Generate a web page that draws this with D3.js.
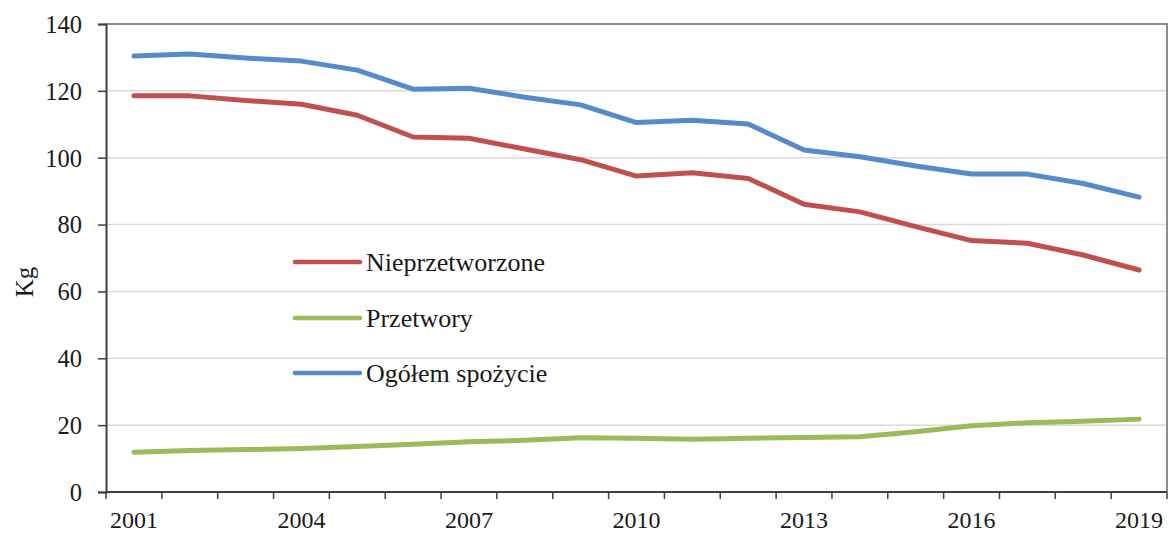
<!DOCTYPE html>
<html>
<head>
<meta charset="utf-8">
<script src="https://cdn.jsdelivr.net/npm/d3@7"></script>
<style>
  html, body { margin: 0; padding: 0; background: #fff; }
  svg { display: block; }
  text { font-family: "Liberation Serif", "Times New Roman", serif; fill: #1a1a1a; }
</style>
</head>
<body>
<svg id="chart" width="1169" height="534"></svg>
<script>
const years = [2001,2002,2003,2004,2005,2006,2007,2008,2009,2010,2011,2012,2013,2014,2015,2016,2017,2018,2019];
const tickYears = [2001,2004,2007,2010,2013,2016,2019];
const yTicks = [0,20,40,60,80,100,120,140];
const seriesNames = ["Nieprzetworzone","Przetwory","Ogółem spożycie"];
const seriesColors = ["#C0504D","#9BBB59","#558BCB"];
const nieprzetworzone = [118.5,118.5,117.1,116.0,112.7,106.2,105.8,102.6,99.4,94.5,95.5,93.8,86.1,83.8,79.4,75.2,74.4,70.9,66.4];
const przetwory = [11.9,12.4,12.7,13.0,13.6,14.3,15.0,15.5,16.2,16.1,15.8,16.1,16.3,16.5,18.0,19.8,20.7,21.2,21.8];
const ogolem = [130.4,131.0,129.8,128.9,126.2,120.5,120.8,118.1,115.8,110.5,111.2,110.1,102.3,100.3,97.5,95.1,95.1,92.3,88.2];
const seriesData = [nieprzetworzone, przetwory, ogolem];

const svg = d3.select("#chart");
const mLeft = 106, mRight = 1167, mTop = 24, mBottom = 492;

const x = d3.scaleBand().domain(years).range([mLeft, mRight]).paddingInner(0).paddingOuter(0);
const y = d3.scaleLinear().domain([0, 140]).range([mBottom, mTop]);

// gridlines
svg.append("g").selectAll("line").data(yTicks.filter(d => d > 0 && d < 140)).join("line")
  .attr("x1", mLeft).attr("x2", mRight)
  .attr("y1", d => y(d)).attr("y2", d => y(d))
  .attr("stroke", "#d9d9d9").attr("stroke-width", 1.5);

// plot border top & right
svg.append("line").attr("x1", mLeft).attr("x2", mRight + 1).attr("y1", y(140)).attr("y2", y(140))
  .attr("stroke", "#8c8c8c").attr("stroke-width", 2);
svg.append("line").attr("x1", mRight).attr("x2", mRight).attr("y1", y(140)).attr("y2", mBottom)
  .attr("stroke", "#8c8c8c").attr("stroke-width", 2);

// y axis
const yAxis = d3.axisLeft(y).tickValues(yTicks).tickSize(8).tickPadding(16).tickFormat(d3.format("d"));
const gy = svg.append("g").attr("transform", `translate(${mLeft},0)`).call(yAxis);
gy.select(".domain").attr("stroke", "#3f3f3f").attr("stroke-width", 2);
gy.selectAll(".tick line").attr("stroke", "#3f3f3f").attr("stroke-width", 1.5);
gy.selectAll(".tick text").attr("font-size", "24.5px").attr("fill", "#1a1a1a")
  .attr("font-family", "Liberation Serif").attr("dy", "0.34em");

// x axis: ticks at band boundaries, labels at centres every 3rd year
const gx = svg.append("g");
gx.append("line").attr("x1", mLeft).attr("x2", mRight).attr("y1", mBottom).attr("y2", mBottom)
  .attr("stroke", "#3f3f3f").attr("stroke-width", 2);
const bounds = years.map(d => x(d)).concat([x(years[years.length - 1]) + x.bandwidth()]);
gx.selectAll("line.tk").data(bounds).join("line").attr("class", "tk")
  .attr("x1", d => d).attr("x2", d => d).attr("y1", mBottom).attr("y2", mBottom + 7)
  .attr("stroke", "#3f3f3f").attr("stroke-width", 1.5);
gx.selectAll("text").data(tickYears).join("text")
  .attr("x", d => x(d) + x.bandwidth() / 2).attr("y", 528)
  .attr("text-anchor", "middle").attr("font-size", "24px").text(d => d);

// y axis title
svg.append("text").attr("transform", "translate(33,282) rotate(-90)")
  .attr("text-anchor", "middle").attr("font-size", "25px").text("Kg");

// lines
const line = d3.line().x((d, i) => x(years[i]) + x.bandwidth() / 2).y(d => y(d));
seriesData.forEach((s, i) => {
  svg.append("path").datum(s).attr("d", line).attr("fill", "none")
    .attr("stroke", seriesColors[i]).attr("stroke-width", 5)
    .attr("stroke-linejoin", "round").attr("stroke-linecap", "round");
});

// legend
const legendY = [262, 318, 373];
const lg = svg.append("g");
seriesNames.forEach((n, i) => {
  lg.append("line").attr("x1", 295).attr("x2", 360).attr("y1", legendY[i]).attr("y2", legendY[i])
    .attr("stroke", seriesColors[i]).attr("stroke-width", 4.5).attr("stroke-linecap", "round");
  lg.append("text").attr("x", 366).attr("y", legendY[i] + 9).attr("font-size", "26px").text(n);
});
</script>
</body>
</html>
